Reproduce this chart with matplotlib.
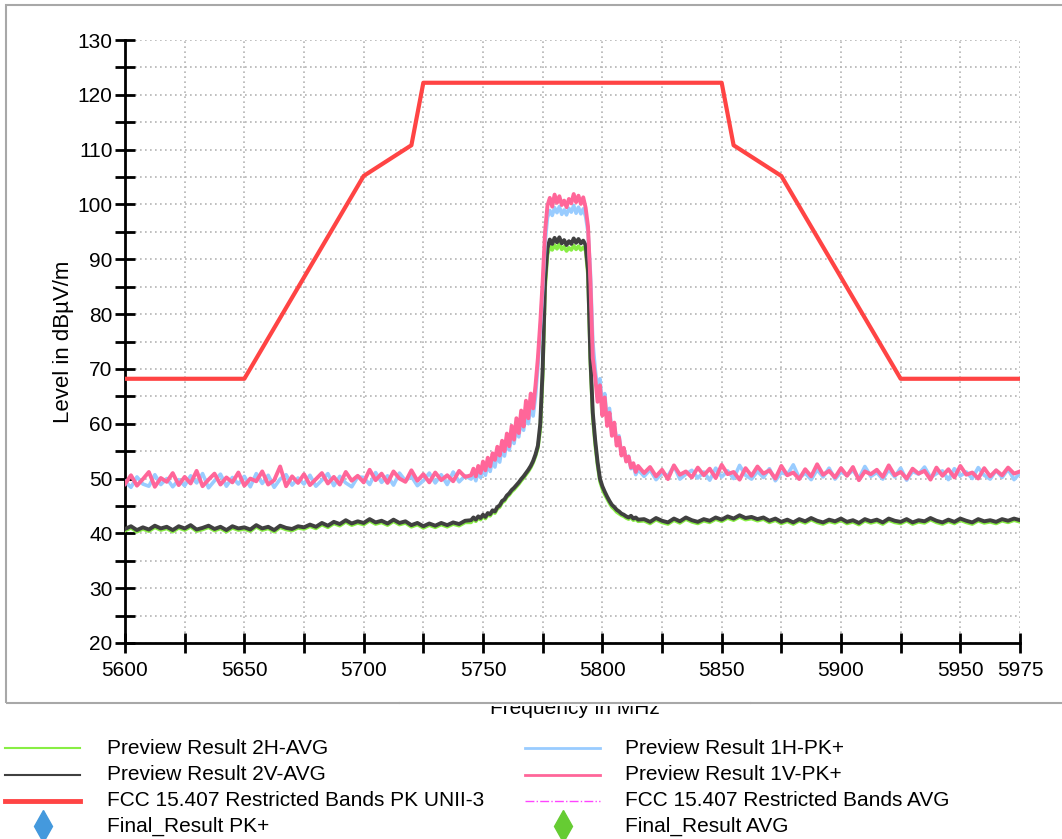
import numpy as np
import matplotlib
matplotlib.use("Agg")
import matplotlib.pyplot as plt
from matplotlib.lines import Line2D
from matplotlib.patches import Rectangle

plt.rcParams['font.family'] = ['Liberation Sans', 'DejaVu Sans']

# sweep grid: coarse outside the carrier, 1 MHz across the carrier
freq_low = np.arange(5600, 5745, 2.5)
freq_mid = np.arange(5745, 5816, 1.0)
freq_high = np.arange(5817.5, 5975.1, 2.5)

# Preview Result 1V-PK+ (pink)
pk1v_low = [49.0, 50.6, 48.7, 49.9, 51.2, 48.5, 50.1, 49.4, 51.0, 48.8,
            50.3, 49.1, 51.4, 48.6, 49.8, 50.9, 48.9, 50.2, 49.3, 51.1,
            48.7, 50.0, 49.5, 51.3, 48.9, 49.7, 52.2, 48.6, 50.4, 49.2,
            50.8, 48.8, 49.9, 51.0, 49.1, 50.3, 48.9, 51.2, 49.6, 50.5,
            49.3, 51.6, 49.7, 50.9, 49.2, 51.3, 50.0, 49.4, 51.5, 49.6,
            50.8, 49.3, 51.1, 49.7, 50.6, 49.5, 51.4, 50.3]
pk1v_mid = [50.6, 51.8, 50.4, 52.3, 51.0, 53.1, 51.5, 53.8, 52.2, 54.6,
            53.4, 55.8, 54.2, 56.9, 55.0, 58.2, 55.9, 59.6, 57.1, 61.0,
            58.3, 62.4, 59.5, 64.2, 61.0, 65.5, 62.8, 67.0, 72.0, 78.5,
            86.0, 95.0, 99.8, 101.2, 99.6, 101.8, 100.3, 101.5, 99.9, 100.7,
            99.5, 101.0, 100.2, 101.9, 100.4, 101.6, 100.1, 101.3, 99.4, 96.0,
            86.0, 72.0, 68.5, 64.0, 67.0, 61.5, 64.8, 59.6, 62.0, 57.8,
            60.2, 56.0, 57.5, 54.2, 55.6, 53.1, 54.0, 52.0, 52.8, 51.2,
            52.3]
pk1v_high = [51.0, 52.1, 50.4, 51.6, 49.9, 52.4, 50.7, 51.3, 50.2, 52.0,
             50.6, 51.8, 50.1, 52.5, 50.8, 51.2, 49.8, 51.9, 50.5, 52.2,
             50.9, 51.5, 50.0, 52.3, 50.6, 51.1, 49.9, 51.7, 50.4, 52.6,
             50.7, 51.4, 50.2, 51.9, 50.5, 52.1, 49.7, 51.3, 50.8, 51.6,
             50.3, 52.4, 50.6, 51.2, 50.0, 51.8, 50.9, 51.4, 49.8, 52.0,
             50.5, 51.7, 50.2, 52.3, 50.7, 51.1, 50.0, 51.9, 50.4, 51.5,
             50.6, 52.0, 50.9, 51.3]

# Preview Result 1H-PK+ (light blue)
pk1h_low = [49.5, 48.4, 50.3, 49.0, 48.6, 50.7, 48.9, 50.0, 48.5, 49.8,
            48.7, 50.5, 49.2, 50.9, 48.3, 49.6, 50.8, 48.6, 50.2, 49.0,
            50.4, 48.5, 50.9, 49.1, 50.6, 48.4, 49.9, 50.7, 48.8, 50.1,
            49.0, 50.6, 48.6, 49.7, 50.9, 48.7, 50.4, 49.2, 48.5, 50.3,
            50.2, 48.9, 51.1, 49.3, 50.5, 48.8, 51.0, 49.6, 50.4, 48.7,
            49.6, 51.0, 49.2, 50.7, 48.9, 51.2, 49.4, 50.5]
pk1h_mid = [49.9, 50.8, 49.6, 51.4, 50.2, 51.9, 50.6, 52.7, 51.3, 53.5,
            52.1, 54.6, 53.0, 55.8, 54.1, 56.9, 55.2, 58.1, 56.4, 59.5,
            57.6, 60.9, 58.8, 62.3, 60.0, 63.6, 61.4, 65.0, 70.5, 77.0,
            84.5, 93.0, 97.6, 98.9, 98.0, 99.4, 98.5, 99.6, 98.2, 99.0,
            98.1, 99.3, 98.6, 99.8, 98.4, 99.5, 98.3, 99.2, 97.8, 95.0,
            87.5, 75.0, 70.0, 66.0, 68.2, 63.0, 65.5, 60.5, 62.8, 58.5,
            60.0, 56.5, 57.8, 54.6, 55.5, 53.2, 54.1, 51.8, 52.4, 50.7,
            51.6]
pk1h_high = [50.4, 51.6, 49.8, 51.0, 50.5, 52.3, 49.9, 50.8, 51.5, 50.1,
             51.2, 49.7, 51.9, 50.3, 51.4, 50.0, 52.4, 50.6, 49.9, 51.3,
             50.2, 51.8, 49.6, 51.1, 50.7, 52.5, 50.1, 51.0, 49.8, 51.6,
             50.3, 51.9, 49.9, 51.2, 50.6, 51.5, 50.0, 52.2, 50.4, 51.1,
             49.9, 51.6, 50.3, 51.9, 49.7, 51.3, 50.8, 52.1, 50.2, 50.9,
             51.4, 49.8, 51.8, 50.5, 51.2, 50.0, 52.0, 50.6, 49.9, 51.5,
             50.2, 51.7, 49.8, 51.0]

# Preview Result 2V-AVG (dark grey)
avg2v_low = [40.8, 41.3, 40.6, 41.1, 40.7, 41.4, 40.9, 41.2, 40.6, 41.3,
             40.9, 41.5, 40.7, 41.0, 41.4, 40.8, 41.2, 40.6, 41.3, 40.9,
             41.1, 40.7, 41.5, 40.9, 41.2, 40.6, 41.4, 41.0, 40.8, 41.3,
             41.1, 41.6, 41.2, 41.9, 41.4, 42.1, 41.7, 42.4, 41.8, 42.2,
             41.9, 42.6, 42.0, 42.3, 41.8, 42.5, 41.9, 42.2, 41.5, 41.9,
             41.3, 41.8, 41.4, 41.9, 41.5, 42.0, 41.7, 42.3]
avg2v_mid = [42.4, 42.9, 42.5, 43.1, 42.8, 43.4, 43.0, 43.7, 43.5, 44.2,
             44.0, 44.8, 45.1, 45.9, 46.2, 46.9, 47.3, 47.9, 48.3, 48.8,
             49.3, 49.9, 50.4, 51.0, 51.6, 52.3, 53.2, 54.4, 56.0, 60.0,
             70.0, 86.0, 92.0, 93.6, 92.8, 93.9, 93.1, 94.0, 92.9, 93.5,
             92.6, 93.3, 92.8, 93.8, 93.0, 93.7, 92.9, 93.4, 92.6, 88.0,
             72.0, 62.0, 57.0, 53.0, 50.0, 48.6, 47.6, 46.7, 45.9, 45.2,
             44.8, 44.3, 44.0, 43.6, 43.4, 43.1, 42.9, 43.2, 42.7, 42.9,
             42.5]
avg2v_high = [42.6, 42.1, 42.8, 42.3, 42.0, 42.7, 42.2, 42.9, 42.4, 42.1,
              42.6, 42.3, 42.9, 42.5, 43.1, 42.7, 43.3, 42.8, 43.0, 42.6,
              42.9, 42.3, 42.7, 42.1, 42.5, 42.0, 42.6, 42.2, 42.8, 42.3,
              42.0, 42.5, 42.2, 42.7, 42.1, 42.4, 41.9, 42.6, 42.2, 42.5,
              42.0, 42.7, 42.3, 42.1, 42.6, 42.0, 42.4, 42.2, 42.8, 42.3,
              42.0, 42.5, 42.1, 42.7, 42.3, 42.0, 42.6, 42.2, 42.4, 42.1,
              42.6, 42.3, 42.7, 42.4]

# Preview Result 2H-AVG (green)
avg2h_low = [40.5, 41.0, 40.3, 40.8, 40.4, 41.1, 40.6, 40.9, 40.3, 41.0,
             40.6, 41.2, 40.4, 40.7, 41.1, 40.5, 40.9, 40.3, 41.0, 40.6,
             40.8, 40.4, 41.2, 40.6, 40.9, 40.3, 41.1, 40.7, 40.5, 41.0,
             40.8, 41.3, 40.9, 41.6, 41.1, 41.8, 41.4, 42.1, 41.5, 41.9,
             41.6, 42.3, 41.7, 42.0, 41.5, 42.2, 41.6, 41.9, 41.2, 41.6,
             41.0, 41.5, 41.1, 41.6, 41.2, 41.7, 41.4, 42.0]
avg2h_mid = [42.0, 42.6, 42.2, 42.8, 42.5, 43.1, 42.7, 43.4, 43.2, 43.9,
             43.7, 44.5, 44.8, 45.6, 45.9, 46.6, 47.0, 47.6, 48.0, 48.5,
             49.0, 49.6, 50.1, 50.7, 51.3, 52.0, 52.9, 54.1, 55.6, 59.0,
             68.5, 84.5, 90.8, 92.4, 91.7, 92.6, 91.9, 92.8, 91.8, 92.3,
             91.5, 92.1, 91.7, 92.5, 91.8, 92.4, 91.7, 92.2, 91.6, 87.0,
             71.0, 61.0, 56.2, 52.4, 49.5, 48.1, 47.1, 46.3, 45.5, 44.8,
             44.4, 43.9, 43.6, 43.3, 43.1, 42.8, 42.6, 42.9, 42.4, 42.6,
             42.2]
avg2h_high = [42.3, 41.8, 42.5, 42.0, 41.7, 42.4, 41.9, 42.6, 42.1, 41.8,
              42.3, 42.0, 42.6, 42.2, 42.8, 42.4, 43.0, 42.5, 42.7, 42.3,
              42.6, 42.0, 42.4, 41.8, 42.2, 41.7, 42.3, 41.9, 42.5, 42.0,
              41.7, 42.2, 41.9, 42.4, 41.8, 42.1, 41.6, 42.3, 41.9, 42.2,
              41.7, 42.4, 42.0, 41.8, 42.3, 41.7, 42.1, 41.9, 42.5, 42.0,
              41.7, 42.2, 41.8, 42.4, 42.0, 41.7, 42.3, 41.9, 42.1, 41.8,
              42.3, 42.0, 42.4, 42.1]

# FCC 15.407 restricted bands PK, UNII-3 mask
limit_freq = [5600, 5650, 5700, 5720, 5725, 5850, 5855, 5875, 5925, 5975]
limit_level = [68.2, 68.2, 105.2, 110.8, 122.2, 122.2, 110.8, 105.2, 68.2, 68.2]

x_labels = [5600, 5650, 5700, 5750, 5800, 5850, 5900, 5950, 5975]

legend_entries = [
    ('Preview Result 2H-AVG', 'line', '#88ee44', 1.5, '-'),
    ('Preview Result 1H-PK+', 'line', '#99ccff', 2.0, '-'),
    ('Preview Result 2V-AVG', 'line', '#404040', 1.5, '-'),
    ('Preview Result 1V-PK+', 'line', '#ff6699', 2.0, '-'),
    ('FCC 15.407 Restricted Bands PK UNII-3', 'line', '#ff4444', 3.5, '-'),
    ('FCC 15.407 Restricted Bands AVG', 'line', '#ff44ff', 1.0, '-.'),
    ('Final_Result PK+', 'marker', '#4499dd', 0, ''),
    ('Final_Result AVG', 'marker', '#66cc33', 0, ''),
]

W, H = 1062, 839
fig = plt.figure(figsize=(W / 100, H / 100), dpi=100)


def fx(px):
    return px / W


def fy(py):
    return 1 - py / H


# outer frame
fig.add_artist(Rectangle((fx(6), fy(703)), fx(1100), fy(5) - fy(703),
                         transform=fig.transFigure, fill=False,
                         edgecolor='#a8a8a8', linewidth=1.5))

ax = fig.add_axes([fx(125), fy(643), fx(1020) - fx(125), fy(40) - fy(643)])
ax.set_facecolor('none')

freq = np.concatenate([freq_low, freq_mid, freq_high])
traces = [
    (avg2h_low + avg2h_mid + avg2h_high, '#88ee44', 2.6),
    (avg2v_low + avg2v_mid + avg2v_high, '#404040', 2.8),
    (pk1h_low + pk1h_mid + pk1h_high, '#99ccff', 2.6),
    (pk1v_low + pk1v_mid + pk1v_high, '#ff6699', 2.8),
]
for levels, color, lw in traces:
    ax.plot(freq, levels, color=color, linewidth=lw, zorder=3)

ax.plot(limit_freq, limit_level, color='#ff4444', linewidth=3, zorder=4)

ax.set_xlim(5600, 5975)
ax.set_ylim(20, 130)
ax.set_xticks(np.arange(5600, 5976, 25))
ax.set_xticklabels([str(v) if v in x_labels else '' for v in range(5600, 5976, 25)])
ax.set_yticks(np.arange(20, 131, 5))
ax.set_yticklabels([str(v) if v % 10 == 0 else '' for v in range(20, 131, 5)])
ax.grid(True, color='#b4b4b4', linestyle=(0, (1, 2)), linewidth=1.2)
ax.set_axisbelow(True)
for side in ['top', 'right']:
    ax.spines[side].set_visible(False)
for side in ['left', 'bottom']:
    ax.spines[side].set_linewidth(2)
ax.tick_params(direction='inout', length=14, width=2, labelsize=15, color='black')
ax.tick_params(axis='x', pad=6)
ax.tick_params(axis='y', pad=2)
ax.set_ylabel('Level in dBµV/m', fontsize=16)
ax.yaxis.set_label_coords(-0.057, 0.5)

# x label partly hidden behind the frame edge
fig.text(fx(575), fy(708), 'Frequency in MHz', fontsize=15, ha='center', va='center')
fig.add_artist(Rectangle((fx(400), fy(706)), fx(350), fy(697) - fy(706),
                         transform=fig.transFigure, facecolor='white',
                         edgecolor='none', zorder=5))
fig.add_artist(Line2D([fx(400), fx(750)], [fy(703), fy(703)],
                      transform=fig.transFigure, color='#a8a8a8', linewidth=1.5, zorder=6))

# legend below the plot, two columns
col_x = [(5, 80, 107), (525, 600, 625)]
row_y = [748, 775, 801, 826]
for i, (label, kind, color, lw, ls) in enumerate(legend_entries):
    x0, x1, xt = col_x[i % 2]
    y = row_y[i // 2]
    if kind == 'line':
        fig.add_artist(Line2D([fx(x0), fx(x1)], [fy(y), fy(y)], transform=fig.transFigure,
                              color=color, linewidth=lw, linestyle=ls))
    else:
        fig.add_artist(Line2D([fx((x0 + x1) / 2)], [fy(y)], transform=fig.transFigure,
                              marker='d', markersize=16, color=color, linestyle='none'))
    fig.text(fx(xt), fy(y), label, fontsize=15, va='center', ha='left')

fig.savefig('out.png', dpi=100)
